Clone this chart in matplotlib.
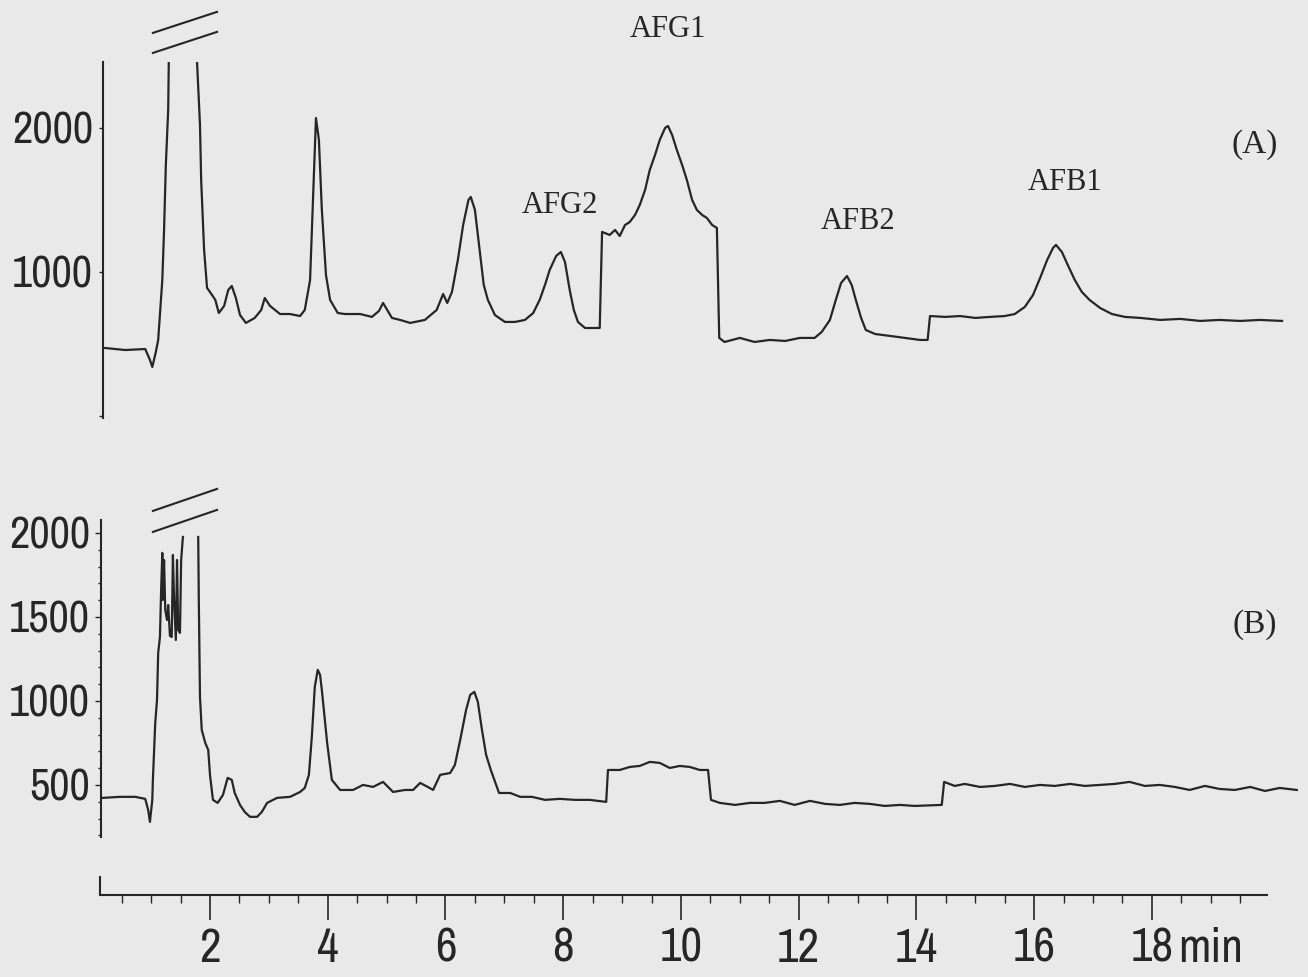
import numpy as np
import matplotlib
matplotlib.use("Agg")
import matplotlib.pyplot as plt
from matplotlib.ticker import FixedLocator, MultipleLocator

# retention time (min) and detector signal, trace (A): standard mix
tA = [0.22, 0.56, 0.90, 0.98, 1.02, 1.08, 1.12, 1.19, 1.22, 1.25, 1.29, 1.30, 1.31,
      1.77, 1.78, 1.83, 1.85, 1.90, 1.95, 2.00, 2.09, 2.15, 2.24, 2.31, 2.37, 2.44,
      2.51, 2.61, 2.76, 2.87, 2.93, 3.02, 3.19, 3.36, 3.53, 3.61, 3.70, 3.75, 3.80,
      3.85, 3.90, 3.97, 4.04, 4.17, 4.29, 4.55, 4.75, 4.87, 4.94, 5.01, 5.09, 5.23,
      5.40, 5.65, 5.85, 5.96, 6.03, 6.11, 6.21, 6.30, 6.39, 6.43, 6.50, 6.59, 6.65,
      6.72, 6.84, 7.01, 7.18, 7.35, 7.49, 7.60, 7.69, 7.77, 7.88, 7.96, 8.03, 8.11,
      8.18, 8.25, 8.37, 8.62, 8.66, 8.79, 8.88, 8.96, 9.05, 9.13, 9.22, 9.30, 9.39,
      9.47, 9.56, 9.64, 9.73, 9.78, 9.85, 9.93, 10.02, 10.10, 10.19, 10.27, 10.36,
      10.44, 10.53, 10.61, 10.65, 10.74, 11.00, 11.25, 11.51, 11.77, 12.02, 12.27,
      12.39, 12.53, 12.63, 12.72, 12.82, 12.90, 12.97, 13.06, 13.14, 13.30, 13.55,
      13.80, 14.06, 14.19, 14.23, 14.49, 14.74, 15.00, 15.25, 15.50, 15.67, 15.84,
      15.98, 16.10, 16.22, 16.32, 16.37, 16.47, 16.57, 16.69, 16.81, 16.94, 17.12,
      17.32, 17.54, 17.80, 18.14, 18.48, 18.82, 19.15, 19.50, 19.83, 20.21]
sA = [472, 458, 465, 389, 340, 444, 528, 944, 1292, 1743, 2125, 2458, 3500,
      3500, 2458, 2021, 1639, 1153, 889, 861, 806, 715, 764, 875, 903, 819,
      701, 646, 681, 736, 819, 764, 708, 708, 694, 736, 944, 1500, 2069,
      1917, 1431, 979, 806, 715, 708, 708, 688, 729, 785, 736, 681, 667,
      646, 667, 736, 847, 785, 861, 1083, 1326, 1500, 1521, 1431, 1118, 910,
      806, 701, 653, 653, 667, 715, 806, 910, 1014, 1111, 1139, 1069, 875,
      736, 653, 611, 611, 1278, 1257, 1292, 1250, 1326, 1347, 1396, 1465, 1569,
      1708, 1813, 1917, 2000, 2014, 1951, 1847, 1743, 1639, 1500, 1431, 1396,
      1375, 1326, 1306, 542, 514, 542, 514, 528, 521, 542, 542,
      583, 667, 806, 924, 972, 910, 806, 681, 597, 569, 556,
      542, 528, 528, 694, 688, 694, 681, 688, 694, 708, 757,
      840, 958, 1083, 1167, 1188, 1139, 1049, 944, 861, 806, 750,
      708, 688, 681, 667, 674, 660, 667, 660, 667, 660]

# trace (B): sample extract
tB = [0.18, 0.47, 0.73, 0.90, 0.95, 0.98, 1.02, 1.03, 1.07, 1.10, 1.12, 1.15, 1.17,
      1.19, 1.20, 1.22, 1.24, 1.27, 1.29, 1.32, 1.35, 1.37, 1.39, 1.42, 1.44, 1.46,
      1.49, 1.51, 1.53, 1.54, np.nan, 1.80, 1.81, 1.83, 1.86, 1.92, 1.97, 2.00, 2.05,
      2.13, 2.22, 2.30, 2.37, 2.42, 2.51, 2.59, 2.68, 2.80, 2.88, 2.97, 3.14, 3.36,
      3.53, 3.61, 3.68, 3.73, 3.78, 3.83, 3.87, 3.90, 3.95, 3.99, 4.07, 4.21, 4.43,
      4.60, 4.77, 4.94, 5.11, 5.31, 5.45, 5.57, 5.70, 5.79, 5.91, 6.08, 6.16, 6.25,
      6.35, 6.42, 6.49, 6.55, 6.62, 6.69, 6.77, 6.91, 7.10, 7.27, 7.47, 7.69, 7.94,
      8.20, 8.45, 8.73, 8.76, 8.96, 9.13, 9.30, 9.47, 9.64, 9.81, 9.98, 10.15, 10.32,
      10.46, 10.51, 10.66, 10.92, 11.17, 11.42, 11.68, 11.93, 12.19, 12.45, 12.70,
      12.95, 13.21, 13.46, 13.72, 13.97, 14.43, 14.47, 14.65, 14.82, 15.08, 15.33,
      15.59, 15.84, 16.10, 16.35, 16.61, 16.86, 17.12, 17.37, 17.62, 17.88, 18.13,
      18.39, 18.64, 18.90, 19.15, 19.41, 19.67, 19.92, 20.17, 20.46]
sB = [423, 429, 429, 417, 351, 280, 411, 530, 869, 1006, 1286, 1381, 1661,
      1881, 1601, 1839, 1542, 1482, 1571, 1387, 1381, 1869, 1601, 1363, 1839, 1423,
      1405, 1839, 1929, 1976, np.nan, 1976, 1601, 1024, 827, 750, 708, 560, 411,
      393, 440, 542, 530, 452, 381, 339, 310, 310, 339, 393, 423, 429,
      458, 482, 560, 786, 1083, 1185, 1155, 1065, 887, 750, 530, 470, 470,
      500, 488, 518, 458, 470, 470, 512, 488, 470, 560, 571, 619, 768,
      946, 1036, 1054, 994, 827, 679, 589, 452, 452, 429, 429, 411, 417,
      411, 411, 399, 589, 589, 607, 613, 637, 631, 601, 613, 607, 589,
      589, 411, 393, 381, 393, 393, 405, 381, 405, 387, 381,
      393, 387, 375, 381, 375, 381, 518, 494, 506, 488, 494,
      506, 488, 500, 494, 506, 494, 500, 506, 518, 494, 500,
      488, 470, 494, 476, 470, 488, 464, 482, 470]

peak_names = ["AFG2", "AFG1", "AFB2", "AFB1"]
peak_times = [7.94, 9.78, 13.01, 16.52]
peak_label_y = [1465, 2681, 1347, 1618]

x_major = [2, 4, 6, 8, 10, 12, 14, 16, 18]
yA_ticks = [0, 1000, 2000]
yB_ticks = [500, 1000, 1500, 2000]

W, H = 1308, 977
bg = "#e9e9e9"
ink = "#262626"
num_font = ["Archivo Narrow", "DejaVu Sans"]
txt_font = ["Liberation Serif", "DejaVu Serif"]


def box(x0, y0, x1, y1):
    return [x0 / W, 1 - y1 / H, (x1 - x0) / W, (y1 - y0) / H]


t_lim = (0.0977, 20.60)

fig = plt.figure(figsize=(W / 100, H / 100), dpi=100, facecolor=bg)

axA = fig.add_axes(box(98, 62, 1305, 418))
axB = fig.add_axes(box(98, 520, 1305, 837))
axX = fig.add_axes(box(98, 870, 1305, 895))

for ax in (axA, axB, axX):
    ax.set_facecolor("none")
    ax.set_xlim(*t_lim)
    for s in ax.spines.values():
        s.set_visible(False)

# panel A
axA.plot(tA, sA, color=ink, lw=1.6)
axA.set_ylim(-14, 2458)
axA.spines["left"].set_visible(True)
axA.spines["left"].set_position(("data", 0.18))
axA.spines["left"].set_linewidth(1.5)
axA.spines["left"].set_color(ink)
axA.set_xticks([])
axA.set_yticks(yA_ticks)
axA.set_yticklabels(["", "1000", "2000"])
axA.tick_params(axis="y", length=3, width=1.0, pad=4, colors=ink)
for lb in axA.get_yticklabels():
    lb.set_fontfamily(num_font)
    lb.set_fontsize(32)

# panel B
axB.plot(tB, sB, color=ink, lw=1.6)
axB.set_ylim(190, 2077)
axB.spines["left"].set_visible(True)
axB.spines["left"].set_position(("data", 0.15))
axB.spines["left"].set_linewidth(1.5)
axB.spines["left"].set_color(ink)
axB.set_xticks([])
axB.set_yticks(yB_ticks)
axB.yaxis.set_minor_locator(MultipleLocator(100))
axB.tick_params(axis="y", which="major", length=4, width=1.0, pad=4, colors=ink)
axB.tick_params(axis="y", which="minor", length=2, width=1.0, colors=ink)
for lb in axB.get_yticklabels():
    lb.set_fontfamily(num_font)
    lb.set_fontsize(32)

# axis break marks over the solvent front
for ax, (ya0, ya1, yb0, yb1) in ((axA, (2660, 2806, 2521, 2667)),
                                 (axB, (2131, 2262, 2006, 2137))):
    ax.plot([1.03, 2.12], [ya0, ya1], color=ink, lw=1.5, clip_on=False)
    ax.plot([1.03, 2.12], [yb0, yb1], color=ink, lw=1.5, clip_on=False)

# peak labels
for name, t, y in zip(peak_names, peak_times, peak_label_y):
    axA.text(t, y, name, ha="center", va="center", fontsize=22,
             family=txt_font, color=ink)
axA.text(19.75, 1882, "(A)", ha="center", va="center", fontsize=24,
         family=txt_font, color=ink)
axB.text(19.75, 1452, "(B)", ha="center", va="center", fontsize=24,
         family=txt_font, color=ink)

# shared time axis
axX.set_ylim(0, 1)
axX.set_yticks([])
axX.spines["bottom"].set_visible(True)
axX.spines["bottom"].set_bounds(0.13, 19.95)
axX.spines["bottom"].set_linewidth(1.5)
axX.spines["bottom"].set_color(ink)
axX.plot([0.13, 0.13], [0, 0.72], color=ink, lw=1.5)
axX.xaxis.set_major_locator(FixedLocator(x_major))
axX.xaxis.set_minor_locator(FixedLocator(np.arange(0.5, 20.0, 0.5)))
axX.set_xticklabels([str(v) for v in x_major])
axX.tick_params(axis="x", which="major", length=18, width=1.2, pad=5, colors=ink)
axX.tick_params(axis="x", which="minor", length=5.5, width=1.0, colors=ink)
for lb in axX.get_xticklabels():
    lb.set_fontfamily(num_font)
    lb.set_fontsize(34)
axX.annotate("min", xy=(18.45, 0), xycoords=("data", "axes fraction"),
             xytext=(0, -23), textcoords="offset points", ha="left", va="top",
             fontsize=34, family=num_font, color=ink)

fig.savefig("out.png", dpi=100, facecolor=bg)
